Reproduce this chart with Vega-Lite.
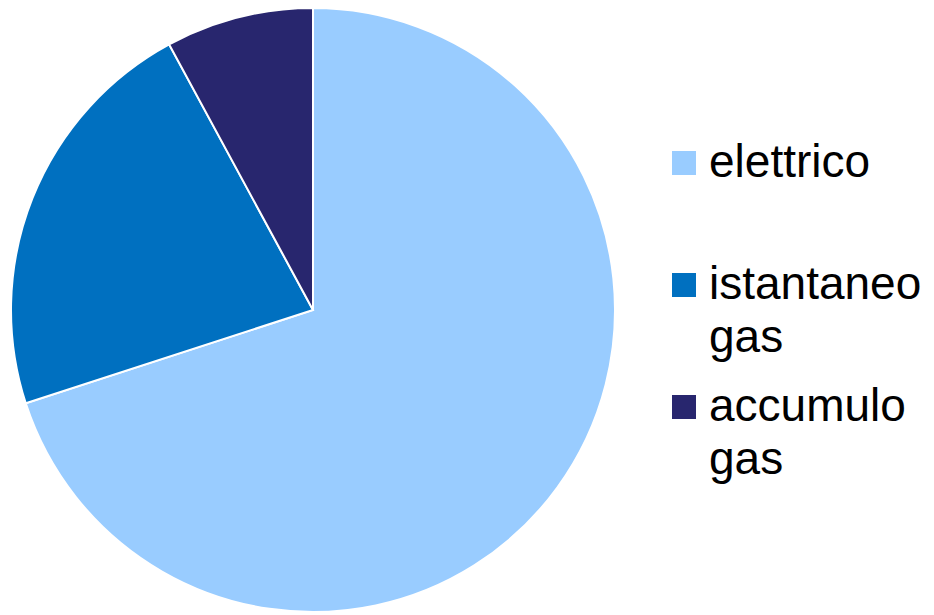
{
  "$schema": "https://vega.github.io/schema/vega-lite/v6.json",
  "width": 626,
  "height": 620,
  "padding": {"left": 0, "top": 0, "right": 308, "bottom": 0},
  "autosize": "none",
  "background": "white",
  "config": {
    "view": {"stroke": null},
    "style": {"guide-label": {"lineHeight": 53}}
  },
  "data": {
    "values": [
      {"tipo": "elettrico", "quota": 70.0, "ordine": 1},
      {"tipo": "istantaneo gas", "quota": 22.1, "ordine": 2},
      {"tipo": "accumulo gas", "quota": 7.9, "ordine": 3}
    ]
  },
  "mark": {"type": "arc", "radius": 302, "stroke": "white", "strokeWidth": 2},
  "encoding": {
    "theta": {"field": "quota", "type": "quantitative", "stack": true},
    "order": {"field": "ordine", "type": "quantitative"},
    "color": {
      "field": "tipo",
      "type": "nominal",
      "sort": ["elettrico", "istantaneo gas", "accumulo gas"],
      "scale": {
        "domain": ["elettrico", "istantaneo gas", "accumulo gas"],
        "range": ["#99CCFF", "#0070C0", "#28266E"]
      },
      "legend": {
        "title": null,
        "orient": "none",
        "legendX": 661,
        "legendY": 140,
        "symbolType": "square",
        "symbolSize": 576,
        "symbolStrokeWidth": 0,
        "labelFont": "Liberation Sans",
        "labelFontSize": 46,
        "labelColor": "black",
        "labelOffset": 2,
        "labelLimit": 300,
        "gridAlign": "all",
        "rowPadding": 23,
        "labelExpr": "datum.label == 'elettrico' ? datum.label : split(datum.label, ' ')",
        "encode": {"labels": {"enter": {"lineHeight": {"value": 53}}, "update": {"lineHeight": {"value": 53}}}}
      }
    }
  }
}
